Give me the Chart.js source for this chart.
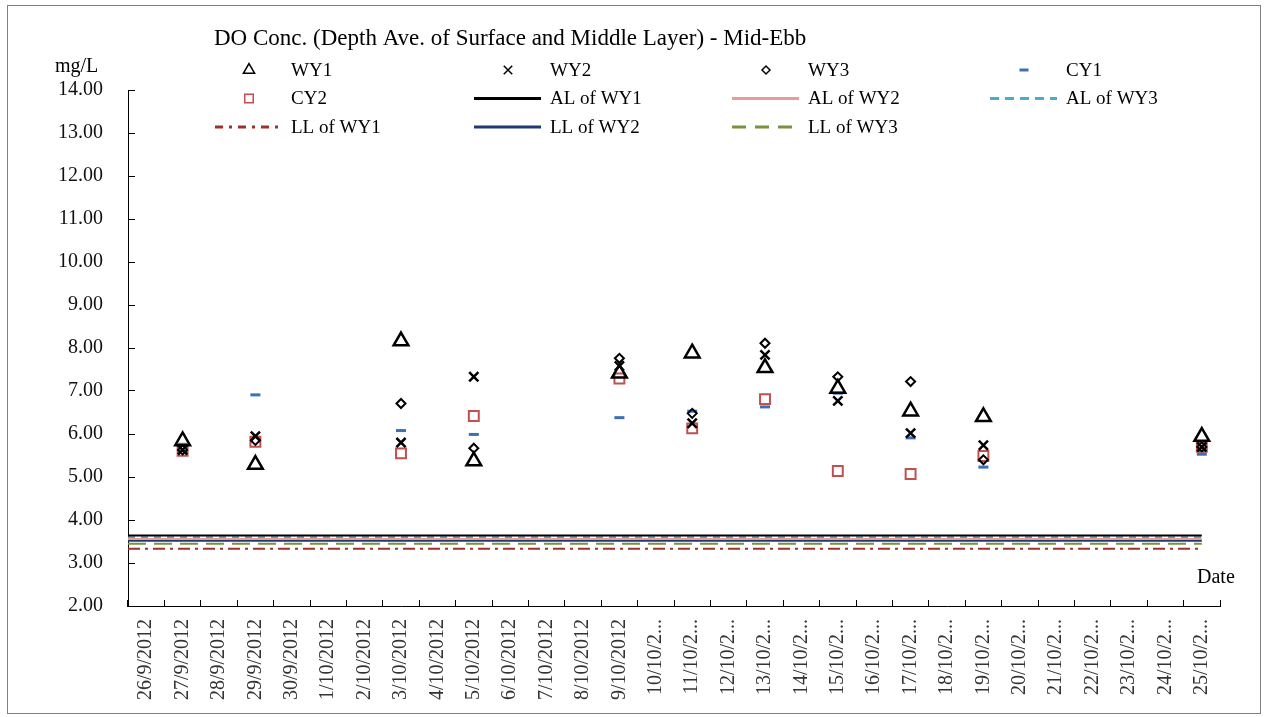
<!DOCTYPE html>
<html>
<head>
<meta charset="utf-8">
<title>DO Conc. - Mid-Ebb</title>
<script src="https://cdn.jsdelivr.net/npm/chart.js@4.4.0/dist/chart.umd.min.js"></script>
<style>
  html, body { margin: 0; padding: 0; background: #fff; }
  #wrap { position: relative; width: 1266px; height: 717px; }
  #frame { position: absolute; left: 7px; top: 5px; width: 1252px; height: 707px; border: 1px solid #808080; pointer-events: none; }
</style>
</head>
<body>
<div id="wrap">
  <canvas id="doChart" width="1266" height="717"></canvas>
  <div id="frame"></div>
</div>
<script>
const titleText = 'DO Conc. (Depth Ave. of Surface and Middle Layer) - Mid-Ebb';
const yUnit = 'mg/L';
const xTitle = 'Date';

// every day on the axis
const dates = [
    '26/9/2012', '27/9/2012', '28/9/2012', '29/9/2012', '30/9/2012',
    '1/10/2012', '2/10/2012', '3/10/2012', '4/10/2012', '5/10/2012',
    '6/10/2012', '7/10/2012', '8/10/2012', '9/10/2012', '10/10/2012',
    '11/10/2012', '12/10/2012', '13/10/2012', '14/10/2012', '15/10/2012',
    '16/10/2012', '17/10/2012', '18/10/2012', '19/10/2012', '20/10/2012',
    '21/10/2012', '22/10/2012', '23/10/2012', '24/10/2012', '25/10/2012'
];

// survey days
const sampleDates = ['27/9/2012', '29/9/2012', '3/10/2012', '5/10/2012', '9/10/2012',
    '11/10/2012', '13/10/2012', '15/10/2012', '17/10/2012', '19/10/2012', '25/10/2012'];

const wy1 = [5.84, 5.29, 8.16, 5.37, 7.41, 7.88, 7.54, 7.06, 6.53, 6.40, 5.94];
const wy2 = [5.63, 5.95, 5.80, 7.33, 7.58, 6.25, 7.84, 6.77, 6.02, 5.74, 5.70];
const wy3 = [5.63, 5.85, 6.71, 5.67, 7.76, 6.48, 8.11, 7.33, 7.22, 5.40, 5.70];
const cy1 = [5.76, 6.91, 6.08, 5.99, 6.38, 6.53, 6.63, 6.95, 5.91, 5.23, 5.53];
const cy2 = [5.61, 5.82, 5.55, 6.42, 7.29, 6.13, 6.81, 5.14, 5.07, 5.49, 5.70];

// action / limit levels
const alWY1 = 3.64;
const alWY2 = 3.56;
const alWY3 = 3.60;
const llWY1 = 3.33;
const llWY2 = 3.52;
const llWY3 = 3.45;

const yMin = 2, yMax = 14, yStep = 1;

const serif = '"Liberation Serif", "Times New Roman", serif';

function points(values) {
    return sampleDates.map((d, i) => ({ x: d, y: values[i] }));
}

// level lines run from the y axis to the last day
function level(v) {
    return [{ x: -0.5, y: v }, { x: dates.length - 1, y: v }];
}

function markerSet(label, values, style, radius, color, width) {
    return {
        label: label,
        data: points(values),
        xAxisID: 'x',
        showLine: false,
        pointStyle: style,
        pointRadius: radius,
        pointBorderWidth: width,
        pointBorderColor: color,
        pointBackgroundColor: 'rgba(0,0,0,0)',
        borderColor: color,
        order: 1
    };
}

function levelSet(label, value, color, dash) {
    return {
        label: label,
        data: level(value),
        xAxisID: 'xl',
        borderColor: color,
        borderWidth: 2,
        borderDash: dash,
        pointRadius: 0,
        fill: false,
        order: 5
    };
}

function drawMarker(ctx, style, x, y, r) {
    ctx.beginPath();
    if (style === 'triangle') {
        for (let k = 0; k < 3; k++) {
            const a = -Math.PI / 2 + k * 2 * Math.PI / 3;
            const px = x + Math.cos(a) * r, py = y + Math.sin(a) * r;
            if (k === 0) ctx.moveTo(px, py); else ctx.lineTo(px, py);
        }
        ctx.closePath();
    } else if (style === 'crossRot') {
        const d = r * Math.SQRT1_2;
        ctx.moveTo(x - d, y - d); ctx.lineTo(x + d, y + d);
        ctx.moveTo(x - d, y + d); ctx.lineTo(x + d, y - d);
    } else if (style === 'rectRot') {
        ctx.moveTo(x - r, y); ctx.lineTo(x, y - r);
        ctx.lineTo(x + r, y); ctx.lineTo(x, y + r);
        ctx.closePath();
    } else if (style === 'line') {
        ctx.moveTo(x - r, y); ctx.lineTo(x + r, y);
    } else {
        const s = r * Math.SQRT1_2;
        ctx.rect(x - s, y - s, 2 * s, 2 * s);
    }
    ctx.stroke();
}

const decor = {
    id: 'decor',
    afterDraw(chart) {
        const ctx = chart.ctx;
        ctx.save();
        ctx.fillStyle = '#000';
        ctx.textAlign = 'left';
        ctx.textBaseline = 'alphabetic';
        ctx.font = '23px ' + serif;
        ctx.fillText(titleText, 214, 45);
        ctx.font = '20px ' + serif;
        ctx.fillText(yUnit, 55, 72);
        ctx.fillText(xTitle, 1197, 583);

        // legend, four columns
        const colStart = [215, 474, 732, 990];
        const rowY = [70, 98.5, 127];
        ctx.font = '19px ' + serif;
        ctx.textBaseline = 'middle';
        chart.data.datasets.forEach((ds, i) => {
            const c = i % 4, r = Math.floor(i / 4);
            const x0 = colStart[c], y = rowY[r];
            ctx.strokeStyle = ds.borderColor;
            if (ds.showLine === false) {
                const small = { triangle: [6.5, 1.5], crossRot: [6, 1.5], rectRot: [4, 1.5], line: [4.5, 3], rect: [6, 1.5] };
                const [rad, lw] = small[ds.pointStyle];
                ctx.lineWidth = lw;
                ctx.setLineDash([]);
                drawMarker(ctx, ds.pointStyle, x0 + 34, y, rad);
            } else {
                ctx.lineWidth = 3;
                ctx.setLineDash(ds.legendDash || []);
                ctx.beginPath();
                ctx.moveTo(x0, y);
                ctx.lineTo(x0 + 67, y);
                ctx.stroke();
                ctx.setLineDash([]);
            }
            ctx.fillStyle = '#000';
            ctx.fillText(ds.label, x0 + 76, y + 1);
        });
        ctx.restore();
    }
};

const datasets = [
    markerSet('WY1', wy1, 'triangle', 8.5, '#000000', 2.5),
    markerSet('WY2', wy2, 'crossRot', 6.5, '#000000', 2.5),
    markerSet('WY3', wy3, 'rectRot', 4.5, '#000000', 2),
    markerSet('CY1', cy1, 'line', 5, '#3d6fb6', 3),
    markerSet('CY2', cy2, 'rect', 7, '#c0504d', 2),
    levelSet('AL of WY1', alWY1, '#000000', []),
    levelSet('AL of WY2', alWY2, '#e89c9a', []),
    levelSet('AL of WY3', alWY3, '#4bacc6', [7, 6]),
    levelSet('LL of WY1', llWY1, '#a0302c', [12, 5, 3, 5]),
    levelSet('LL of WY2', llWY2, '#1f3a70', []),
    levelSet('LL of WY3', llWY3, '#77933c', [18, 8])
];
datasets[7].legendDash = [9, 6];
datasets[8].legendDash = [8, 6, 3, 6];
datasets[10].legendDash = [14, 9];

new Chart(document.getElementById('doChart'), {
    type: 'line',
    data: { labels: dates, datasets: datasets },
    options: {
        responsive: false,
        animation: false,
        events: [],
        layout: { padding: { left: 0, top: 90, right: 46, bottom: 0 } },
        plugins: {
            legend: { display: false },
            title: { display: false },
            tooltip: { enabled: false }
        },
        scales: {
            x: {
                type: 'category',
                offset: true,
                grid: { display: true, drawOnChartArea: false, drawTicks: true, tickLength: -6, color: '#000', offset: true },
                border: { color: '#000', width: 1 },
                ticks: {
                    autoSkip: false,
                    minRotation: 90,
                    maxRotation: 90,
                    padding: 19,
                    color: '#333',
                    font: { family: serif, size: 20 },
                    callback: function(value, index) {
                        const s = dates[index];
                        return s.length > 9 ? s.slice(0, 7) + '...' : s;
                    }
                },
                afterFit: function(scale) { scale.height = 111; }
            },
            xl: {
                type: 'linear',
                display: false,
                min: -0.5,
                max: dates.length - 0.5
            },
            y: {
                min: yMin,
                max: yMax,
                grid: { display: true, drawOnChartArea: false, drawTicks: true, tickLength: -7, color: '#000' },
                border: { color: '#000', width: 1 },
                ticks: {
                    stepSize: yStep,
                    padding: 32,
                    color: '#111',
                    font: { family: serif, size: 20 },
                    callback: function(value) { return value.toFixed(2); }
                },
                afterFit: function(scale) { scale.width = 128; }
            }
        }
    },
    plugins: [decor]
});
</script>
</body>
</html>
